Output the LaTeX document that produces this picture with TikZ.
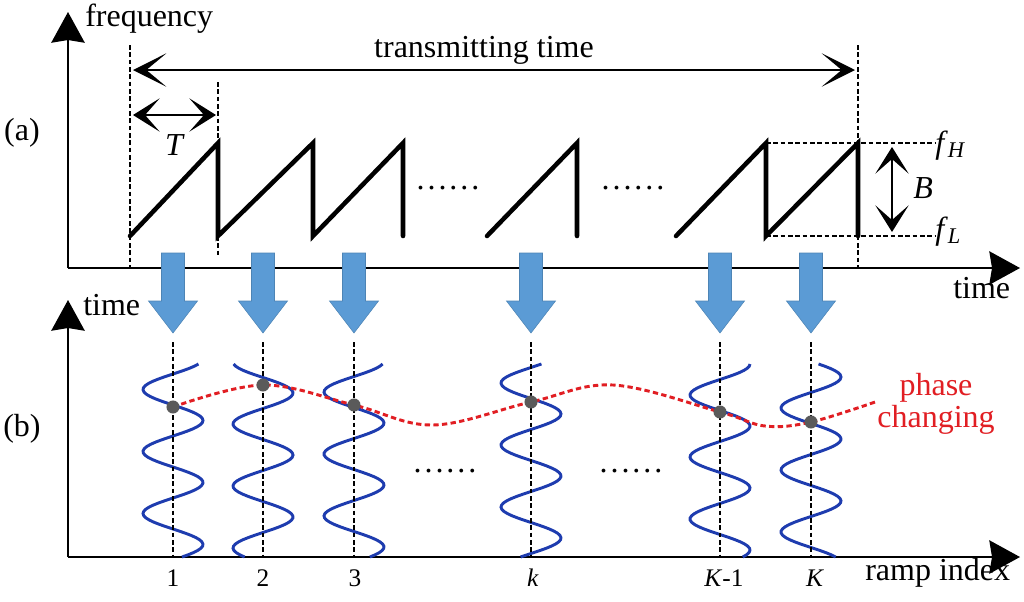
\documentclass[tikz,border=0pt]{standalone}
\usepackage{fontspec}
\setmainfont{Liberation Serif}
\usetikzlibrary{arrows.meta}
\definecolor{arrowblue}{RGB}{91,155,213}
\definecolor{waveblue}{RGB}{30,60,175}
\definecolor{phasered}{RGB}{225,30,35}
\definecolor{dotgray}{RGB}{90,90,90}
\def\downblock(#1){\draw[fill=arrowblue, draw=arrowblue!85!black, line width=0.4pt] (#1-11.5,253) -- (#1+11.5,253) -- (#1+11.5,301) -- (#1+24.5,301) -- (#1,333) -- (#1-24.5,301) -- (#1-11.5,301) -- cycle;}
\def\chirp(#1,#2){\draw[color=waveblue, line width=2.2pt] plot[domain=364:557, samples=90, variable=\t] ({#1+30*cos((\t-#2)*5.80645)}, \t);}
\def\sixdots{.\kern2.2pt.\kern2.2pt.\kern2.2pt.\kern2.2pt.\kern2.2pt.}

\begin{document}
\begin{tikzpicture}[x=0.75pt, y=-0.75pt,
	font=\fontsize{24}{28}\selectfont, inner sep=0pt,
	axis/.style={line width=1.5pt, -{Stealth[length=23pt, width=25pt, inset=2pt]}},
	span/.style={line width=1.5pt, {Stealth[length=25pt, width=25pt, inset=15pt]}-{Stealth[length=25pt, width=25pt, inset=15pt]}},
	tspan/.style={line width=1.5pt, {Stealth[length=20pt, width=25pt, inset=11pt]}-{Stealth[length=20pt, width=25pt, inset=11pt]}},
	guide/.style={line width=1.5pt, dash pattern=on 3.5pt off 2pt},
	ramp/.style={line width=3.4pt, line cap=round},
	phase/.style={color=phasered, line width=2.2pt, dash pattern=on 4pt off 2.5pt},
	idx/.style={font=\fontsize{19}{22}\selectfont, anchor=base}]
			
			\useasboundingbox (0,0) rectangle (1024,601);
			
			%%%%% (a) %%%%%
			
			\coordinate (fo) at (68,268);
			\coordinate (ftop) at (68,12);
			\coordinate (tend) at (1020,268);
			\draw[axis] (fo) -- (ftop);
			\draw[axis] (fo) -- (tend);
			\node[anchor=base west] (freq) at (85,26) {frequency};
			\node[anchor=base west] (time1) at (953,298) {time};
			\node[anchor=base] (la) at (22,140) {(a)};
			
			\draw[guide] (130,45) -- (130,268);
			\draw[guide] (218,82) -- (218,255);
			\draw[guide] (858,45) -- (858,268);
			
			\coordinate (ts) at (133,70);
			\coordinate (te) at (855,70);
			\draw[span] (ts) -- (te);
			\node[anchor=base] (trans) at (484,57) {transmitting time};
			
			\coordinate (Ts) at (133,115);
			\coordinate (Te) at (216,115);
			\draw[tspan] (Ts) -- (Te);
			\node[anchor=base] (Tlab) at (175,155) {\textit{T}};
			
			\draw[ramp] (130,236) -- (218,143) -- (218,236) -- (313,143) -- (313,236) -- (403,143) -- (403,236);
			\draw[ramp] (487,236) -- (577,143) -- (577,236);
			\draw[ramp] (676,236) -- (766,143) -- (766,236) -- (858,143) -- (858,236);
			
			\node[anchor=base] (dots1) at (448,189) {\sixdots};
			\node[anchor=base] (dots2) at (633,189) {\sixdots};
			
			\coordinate (hi1) at (766,143);
			\coordinate (hi2) at (935,143);
			\coordinate (lo1) at (766,236);
			\coordinate (lo2) at (935,236);
			\draw[guide] (hi1) -- (hi2);
			\draw[guide] (lo1) -- (lo2);
			\node[anchor=base west] (fH) at (935,153) {\textit{f}\textsubscript{\textit{H}}};
			\node[anchor=base west] (fL) at (935,239) {\textit{f}\textsubscript{\textit{L}}};
			
			\coordinate (Bt) at (892,147);
			\coordinate (Bb) at (892,232);
			\draw[tspan] (Bt) -- (Bb);
			\node[anchor=base west] (Blab) at (913,198) {\textit{B}};
			
			%%%%% (b) %%%%%
			
			\coordinate (ro) at (68,557);
			\coordinate (rtop) at (68,300);
			\coordinate (rend) at (1020,557);
			\draw[axis] (ro) -- (rtop);
			\draw[axis] (ro) -- (rend);
			\node[anchor=base west] (time2) at (83,315) {time};
			\node[anchor=base] (lb) at (22,436) {(b)};
			\node[anchor=base west] (rampidx) at (865,580) {ramp index};
			
			\chirp(173,420.5)
			\chirp(263,393)
			\chirp(354,423)
			\chirp(531,352)
			\chirp(720,426)
			\chirp(811,377)
			
			\draw[guide] (173,342) -- (173,557);
			\draw[guide] (263,342) -- (263,557);
			\draw[guide] (354,342) -- (354,557);
			\draw[guide] (531,342) -- (531,557);
			\draw[guide] (720,342) -- (720,557);
			\draw[guide] (811,342) -- (811,557);
			
			\node[anchor=base] (dots3) at (445,472) {\sixdots};
			\node[anchor=base] (dots4) at (631,472) {\sixdots};
			
			\coordinate (p1) at (173,407);
			\coordinate (p2) at (263,385);
			\coordinate (p3) at (354,405);
			\coordinate (pk) at (531,402);
			\coordinate (pK1) at (720,412);
			\coordinate (pK) at (811,422);
			\coordinate (m1) at (433,425);
			\coordinate (m2) at (613,385);
			\coordinate (m3) at (765,426);
			\coordinate (pend) at (878,401);
			\draw[phase] plot[smooth, tension=0.6] coordinates {(p1) (p2) (p3) (m1) (pk) (m2) (pK1) (m3) (pK) (pend)};
			
			\fill[dotgray] (p1) circle (4.9pt);
			\fill[dotgray] (p2) circle (4.9pt);
			\fill[dotgray] (p3) circle (4.9pt);
			\fill[dotgray] (pk) circle (4.9pt);
			\fill[dotgray] (pK1) circle (4.9pt);
			\fill[dotgray] (pK) circle (4.9pt);
			
			\node[anchor=base, text=phasered] (ph1) at (936,395) {phase};
			\node[anchor=base, text=phasered] (ph2) at (936,427) {changing};
			
			\node[idx] (n1) at (173,586) {1};
			\node[idx] (n2) at (263,586) {2};
			\node[idx] (n3) at (355,586) {3};
			\node[idx] (nk) at (533,586) {\textit{k}};
			\node[idx] (nK1) at (724,586) {\textit{K}-1};
			\node[idx] (nK) at (815,586) {\textit{K}};
			
			%%%%% blue arrows %%%%%
			
			\downblock(173)
			\downblock(263)
			\downblock(354)
			\downblock(531)
			\downblock(720)
			\downblock(811)
			
		\end{tikzpicture}
\end{document}
